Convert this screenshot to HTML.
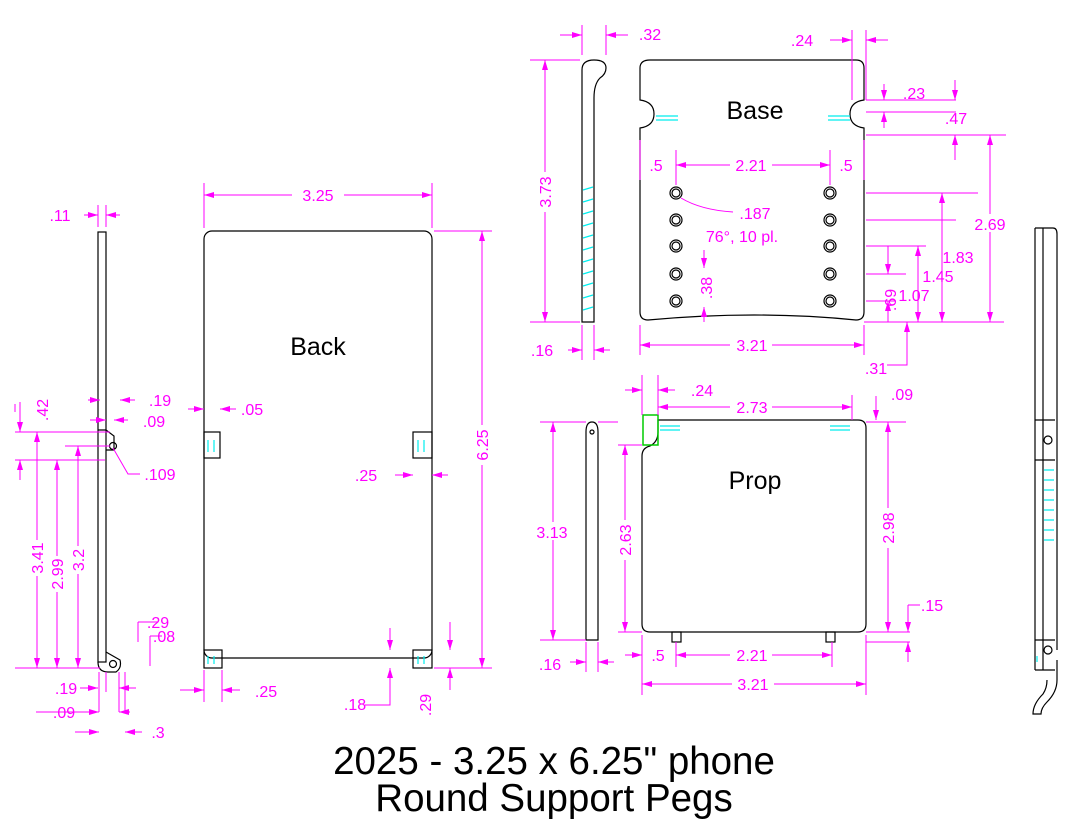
<!DOCTYPE html>
<html><head><meta charset="utf-8"><style>
html,body{margin:0;padding:0;background:#fff;}
svg{display:block;}
.o{fill:none;stroke:#000;stroke-width:1.2}
.m{stroke:#f0f;stroke-width:1;fill:none}
.c{stroke:#0ee;stroke-width:1.2;fill:none}
.t{fill:#f0f;font-family:"Liberation Sans",sans-serif;font-size:16px;text-anchor:middle}
.L{fill:#000;font-family:"Liberation Sans",sans-serif;font-size:25px;text-anchor:middle}
</style></head><body>
<svg width="1077" height="835" viewBox="0 0 1077 835" xmlns="http://www.w3.org/2000/svg">
<defs><marker id="a" viewBox="0 0 10 6" refX="10" refY="3" markerWidth="10" markerHeight="6" orient="auto-start-reverse" markerUnits="userSpaceOnUse"><path d="M0,0L10,3L0,6z" fill="#f0f"/></marker></defs>
<rect width="1077" height="835" fill="#fff"/>

<!-- BACK -->
<rect class="o" x="204" y="231" width="228" height="427" rx="8"/>
<rect class="o" x="204" y="432" width="16" height="26"/><rect class="o" x="413" y="432" width="19" height="26"/>
<rect class="o" x="204" y="650" width="18" height="18"/><rect class="o" x="413" y="650" width="19" height="18"/>
<path class="c" d="M208,440v12M214,440v12M418,440v12M424,440v12M208,656v8M214,656v8M418,656v8M424,656v8"/>
<text class="L" x="318" y="355">Back</text>
<path class="m" d="M204,183v45M432,183v45M434,231h58M434,668h58M204,670v32M222,670v32"/>
<line class="m" x1="204" y1="195" x2="432" y2="195" marker-start="url(#a)" marker-end="url(#a)"/>
<rect x="292" y="186" width="52" height="18" fill="#fff"/><text class="t" x="318" y="201">3.25</text>
<line class="m" x1="482" y1="231" x2="482" y2="668" marker-start="url(#a)" marker-end="url(#a)"/>
<rect x="473" y="425" width="18" height="40" fill="#fff"/><text class="t" transform="translate(488,445) rotate(-90)">6.25</text>
<line class="m" x1="188" y1="409" x2="204" y2="409" marker-end="url(#a)"/><line class="m" x1="236" y1="409" x2="220" y2="409" marker-end="url(#a)"/>
<text class="t" x="252" y="415">.05</text>
<line class="m" x1="395" y1="475" x2="413" y2="475" marker-end="url(#a)"/><line class="m" x1="448" y1="475" x2="432" y2="475" marker-end="url(#a)"/>
<text class="t" x="366" y="481">.25</text>
<line class="m" x1="180" y1="690" x2="204" y2="690" marker-end="url(#a)"/><line class="m" x1="240" y1="690" x2="222" y2="690" marker-end="url(#a)"/>
<text class="t" x="266" y="697">.25</text>
<line class="m" x1="390" y1="628" x2="390" y2="650" marker-end="url(#a)"/><line class="m" x1="390" y1="690" x2="390" y2="668" marker-end="url(#a)"/>
<path class="m" d="M390,690v15h-25"/><text class="t" x="355" y="710">.18</text>
<line class="m" x1="450" y1="622" x2="450" y2="650" marker-end="url(#a)"/><line class="m" x1="450" y1="690" x2="450" y2="668" marker-end="url(#a)"/>
<text class="t" transform="translate(431,705) rotate(-90)">.29</text>

<!-- LEFT PROFILE -->
<rect class="o" x="98" y="232" width="8" height="430"/>
<path class="o" d="M98,430h8l8,6v14h-8M98,662q0,10 10,10h8q6,-4 4,-12l-14,-8"/>
<circle class="o" cx="113" cy="446" r="3.5"/><circle class="o" cx="113" cy="664" r="3.5"/>
<line class="m" x1="84" y1="215" x2="98" y2="215" marker-end="url(#a)"/><line class="m" x1="120" y1="215" x2="106" y2="215" marker-end="url(#a)"/>
<path class="m" d="M98,205v22M106,205v22"/><text class="t" x="60" y="221">.11</text>
<line class="m" x1="88" y1="400" x2="100" y2="400" marker-end="url(#a)"/><line class="m" x1="135" y1="400" x2="120" y2="400" marker-end="url(#a)"/>
<text class="t" x="160" y="406">.19</text>
<line class="m" x1="90" y1="420" x2="106" y2="420" marker-end="url(#a)"/><line class="m" x1="128" y1="420" x2="114" y2="420" marker-end="url(#a)"/>
<text class="t" x="154" y="427">.09</text>
<line class="m" x1="20" y1="402" x2="20" y2="432" marker-end="url(#a)"/><line class="m" x1="20" y1="480" x2="20" y2="460" marker-end="url(#a)"/>
<text class="t" transform="translate(48,410) rotate(-90)">.42</text>
<path class="m" d="M15,432h95M65,446h45M15,460h90M15,668h85M15,404v8"/>
<path class="m" d="M113,448l15,26h12"/><text class="t" x="160" y="480">.109</text>
<line class="m" x1="37" y1="432" x2="37" y2="668" marker-start="url(#a)" marker-end="url(#a)"/>
<rect x="28" y="540" width="18" height="36" fill="#fff"/><text class="t" transform="translate(43,558) rotate(-90)">3.41</text>
<line class="m" x1="57" y1="460" x2="57" y2="668" marker-start="url(#a)" marker-end="url(#a)"/>
<rect x="48" y="556" width="18" height="36" fill="#fff"/><text class="t" transform="translate(63,574) rotate(-90)">2.99</text>
<line class="m" x1="78" y1="446" x2="78" y2="668" marker-start="url(#a)" marker-end="url(#a)"/>
<rect x="69" y="546" width="18" height="28" fill="#fff"/><text class="t" transform="translate(84,560) rotate(-90)">3.2</text>
<path class="m" d="M138,622v20M138,622h20M150,636h12M150,636v30"/>
<text class="t" x="158" y="628">.29</text><text class="t" x="164" y="642">.08</text>
<path class="m" d="M99,672v40M119,672v40M125,672v40M106,672v20"/>
<line class="m" x1="80" y1="688" x2="98" y2="688" marker-end="url(#a)"/><line class="m" x1="136" y1="688" x2="119" y2="688" marker-end="url(#a)"/>
<text class="t" x="66" y="694">.19</text>
<line class="m" x1="36" y1="712" x2="99" y2="712" marker-end="url(#a)"/><line class="m" x1="130" y1="712" x2="119" y2="712" marker-end="url(#a)"/>
<text class="t" x="64" y="718">.09</text>
<line class="m" x1="75" y1="732" x2="99" y2="732" marker-end="url(#a)"/><line class="m" x1="142" y1="732" x2="125" y2="732" marker-end="url(#a)"/>
<text class="t" x="158" y="738">.3</text>

<!-- BASE -->
<path class="o" d="M650,60H856q8,0 8,8V100q-14,2 -14,14q0,12 14,14V312q0,8 -8,8q-100,-10 -208,0q-8,0 -8,-8V128q14,-2 14,-14q0,-12 -14,-14V68q0,-8 10,-8z"/>
<path class="c" d="M656,116h22M656,120h22M828,116h22M828,120h22"/>
<text class="L" x="755" y="119">Base</text>
<g class="o">
<circle cx="676" cy="193" r="6"/><circle cx="676" cy="220" r="6"/><circle cx="676" cy="246" r="6"/><circle cx="676" cy="274" r="6"/><circle cx="676" cy="301" r="6"/>
<circle cx="830" cy="193" r="6"/><circle cx="830" cy="220" r="6"/><circle cx="830" cy="246" r="6"/><circle cx="830" cy="274" r="6"/><circle cx="830" cy="301" r="6"/>
<circle cx="676" cy="193" r="4"/><circle cx="676" cy="220" r="4"/><circle cx="676" cy="246" r="4"/><circle cx="676" cy="274" r="4"/><circle cx="676" cy="301" r="4"/>
<circle cx="830" cy="193" r="4"/><circle cx="830" cy="220" r="4"/><circle cx="830" cy="246" r="4"/><circle cx="830" cy="274" r="4"/><circle cx="830" cy="301" r="4"/>
</g>
<path class="o" d="M582,322V70q0,-10 12,-10q12,0 12,8q0,6 -6,10q-6,6 -6,20V322z"/>
<path class="c" d="M583,190l10,-3M583,202l10,-3M583,214l10,-3M583,226l10,-3M583,238l10,-3M583,250l10,-3M583,262l10,-3M583,274l10,-3M583,286l10,-3M583,298l10,-3M583,310l10,-3"/>
<path class="m" d="M582,25v30M606,25v30M530,60h50M530,322h50M582,325v35M594,325v35"/>
<line class="m" x1="560" y1="35" x2="582" y2="35" marker-end="url(#a)"/><line class="m" x1="628" y1="35" x2="606" y2="35" marker-end="url(#a)"/>
<text class="t" x="650" y="40">.32</text>
<line class="m" x1="545" y1="60" x2="545" y2="322" marker-start="url(#a)" marker-end="url(#a)"/>
<rect x="536" y="172" width="18" height="40" fill="#fff"/><text class="t" transform="translate(551,192) rotate(-90)">3.73</text>
<line class="m" x1="568" y1="350" x2="582" y2="350" marker-end="url(#a)"/><line class="m" x1="610" y1="350" x2="594" y2="350" marker-end="url(#a)"/>
<text class="t" x="542" y="356">.16</text>
<path class="m" d="M852,30v70M866,30v70"/>
<line class="m" x1="830" y1="40" x2="852" y2="40" marker-end="url(#a)"/><line class="m" x1="888" y1="40" x2="866" y2="40" marker-end="url(#a)"/>
<text class="t" x="802" y="46">.24</text>
<path class="m" d="M866,100h90M866,112h90M866,135h140M866,193h112M866,220h90M866,246h60M866,274h40M866,301h30M864,322h140"/>
<line class="m" x1="884" y1="84" x2="884" y2="100" marker-end="url(#a)"/><line class="m" x1="884" y1="128" x2="884" y2="112" marker-end="url(#a)"/>
<text class="t" x="914" y="99">.23</text>
<line class="m" x1="955" y1="80" x2="955" y2="100" marker-end="url(#a)"/><line class="m" x1="955" y1="160" x2="955" y2="135" marker-end="url(#a)"/>
<text class="t" x="956" y="124">.47</text>
<path class="m" d="M640,140v40M676,150v35M830,150v35M864,140v40"/>
<line class="m" x1="676" y1="165" x2="830" y2="165" marker-start="url(#a)" marker-end="url(#a)"/>
<rect x="730" y="156" width="42" height="18" fill="#fff"/><text class="t" x="751" y="171">2.21</text>
<text class="t" x="656" y="171">.5</text><text class="t" x="846" y="171">.5</text>
<path class="m" d="M681,198q20,12 52,14"/><text class="t" x="755" y="219">.187</text>
<text class="t" x="742" y="242">76°, 10 pl.</text>
<line class="m" x1="704" y1="250" x2="704" y2="268" marker-end="url(#a)"/><line class="m" x1="704" y1="322" x2="704" y2="307" marker-end="url(#a)"/>
<text class="t" transform="translate(712,288) rotate(-90)">.38</text>
<path class="m" d="M640,325v30M864,325v30"/>
<line class="m" x1="640" y1="345" x2="864" y2="345" marker-start="url(#a)" marker-end="url(#a)"/>
<rect x="730" y="336" width="42" height="18" fill="#fff"/><text class="t" x="752" y="351">3.21</text>
<line class="m" x1="990" y1="135" x2="990" y2="322" marker-start="url(#a)" marker-end="url(#a)"/>
<rect x="968" y="214" width="42" height="18" fill="#fff"/><text class="t" x="990" y="230">2.69</text>
<line class="m" x1="942" y1="193" x2="942" y2="322" marker-start="url(#a)" marker-end="url(#a)"/>
<text class="t" x="958" y="263">1.83</text>
<line class="m" x1="918" y1="246" x2="918" y2="322" marker-start="url(#a)" marker-end="url(#a)"/>
<text class="t" x="938" y="282">1.45</text>
<line class="m" x1="888" y1="246" x2="888" y2="274" marker-end="url(#a)"/><line class="m" x1="888" y1="322" x2="888" y2="301" marker-end="url(#a)"/>
<text class="t" x="914" y="301">1.07</text>
<text class="t" transform="translate(896,300) rotate(-90)">.69</text>
<line class="m" x1="907" y1="345" x2="907" y2="322" marker-end="url(#a)"/><path class="m" d="M907,345v20h-20"/>
<text class="t" x="876" y="374">.31</text>

<!-- PROP -->
<path class="o" d="M658,420H858q8,0 8,8V624q0,8 -8,8H650q-8,0 -8,-8V456q0,-8 8,-10q8,-4 8,-14z"/>
<rect x="643" y="415" width="15" height="30" fill="none" stroke="#0c0" stroke-width="1.5"/>
<path class="c" d="M660,426h20M660,430h20M830,426h20M830,430h20"/>
<rect class="o" x="672" y="632" width="9" height="10"/><rect class="o" x="826" y="632" width="9" height="10"/>
<text class="L" x="755" y="489">Prop</text>
<path class="o" d="M586,640V432q0,-10 6,-10q6,0 6,10V640z"/><circle class="o" cx="592" cy="432" r="2"/>
<path class="m" d="M642,375v40M658,375v40M852,395v25M540,422h46M540,640h46M598,422h20M618,445h24M618,632h24M866,422h40M866,632h44M586,642v30M598,642v30M642,635v60M676,642v25M832,642v25M866,635v60"/>
<line class="m" x1="625" y1="390" x2="642" y2="390" marker-end="url(#a)"/><line class="m" x1="675" y1="390" x2="658" y2="390" marker-end="url(#a)"/>
<text class="t" x="702" y="396">.24</text>
<line class="m" x1="658" y1="407" x2="852" y2="407" marker-start="url(#a)" marker-end="url(#a)"/>
<rect x="730" y="398" width="42" height="18" fill="#fff"/><text class="t" x="752" y="413">2.73</text>
<line class="m" x1="876" y1="396" x2="876" y2="420" marker-end="url(#a)"/><text class="t" x="902" y="400">.09</text>
<line class="m" x1="553" y1="422" x2="553" y2="640" marker-start="url(#a)" marker-end="url(#a)"/>
<rect x="532" y="522" width="42" height="18" fill="#fff"/><text class="t" x="552" y="538">3.13</text>
<line class="m" x1="625" y1="445" x2="625" y2="632" marker-start="url(#a)" marker-end="url(#a)"/>
<rect x="616" y="520" width="18" height="40" fill="#fff"/><text class="t" transform="translate(631,540) rotate(-90)">2.63</text>
<line class="m" x1="888" y1="422" x2="888" y2="632" marker-start="url(#a)" marker-end="url(#a)"/>
<rect x="879" y="508" width="18" height="40" fill="#fff"/><text class="t" transform="translate(894,528) rotate(-90)">2.98</text>
<line class="m" x1="908" y1="605" x2="908" y2="632" marker-end="url(#a)"/><line class="m" x1="908" y1="662" x2="908" y2="642" marker-end="url(#a)"/>
<path class="m" d="M866,642h44M908,605h12"/><text class="t" x="932" y="611">.15</text>
<line class="m" x1="570" y1="662" x2="586" y2="662" marker-end="url(#a)"/><line class="m" x1="614" y1="662" x2="598" y2="662" marker-end="url(#a)"/>
<text class="t" x="550" y="670">.16</text>
<line class="m" x1="625" y1="655" x2="642" y2="655" marker-end="url(#a)"/>
<text class="t" x="658" y="661">.5</text>
<line class="m" x1="676" y1="655" x2="832" y2="655" marker-start="url(#a)" marker-end="url(#a)"/>
<rect x="730" y="646" width="42" height="18" fill="#fff"/><text class="t" x="752" y="661">2.21</text>
<line class="m" x1="642" y1="684" x2="866" y2="684" marker-start="url(#a)" marker-end="url(#a)"/>
<rect x="732" y="675" width="42" height="18" fill="#fff"/><text class="t" x="753" y="690">3.21</text>

<!-- RIGHT ASSEMBLY -->
<path class="o" d="M1035,228h18q4,0 4,6V650M1043,228V670M1035,228V670M1057,660v20q0,12 -10,22q-6,6 -6,12h-8q0,-10 10,-20q4,-6 4,-14"/>
<path class="o" d="M1035,420h20M1035,460h20M1035,640h20M1035,670h20"/>
<circle class="o" cx="1048" cy="440" r="4"/><circle class="o" cx="1048" cy="650" r="4"/>
<path class="c" d="M1044,470h10M1044,480h10M1044,490h10M1044,500h10M1044,510h10M1044,520h10M1044,530h10M1044,540h10M1037,656v6"/>

<text x="554" y="774" font-family="Liberation Sans,sans-serif" font-size="38.5" text-anchor="middle">2025 - 3.25 x 6.25" phone</text>
<text x="554" y="811" font-family="Liberation Sans,sans-serif" font-size="38.5" text-anchor="middle">Round Support Pegs</text>
</svg>
</body></html>
